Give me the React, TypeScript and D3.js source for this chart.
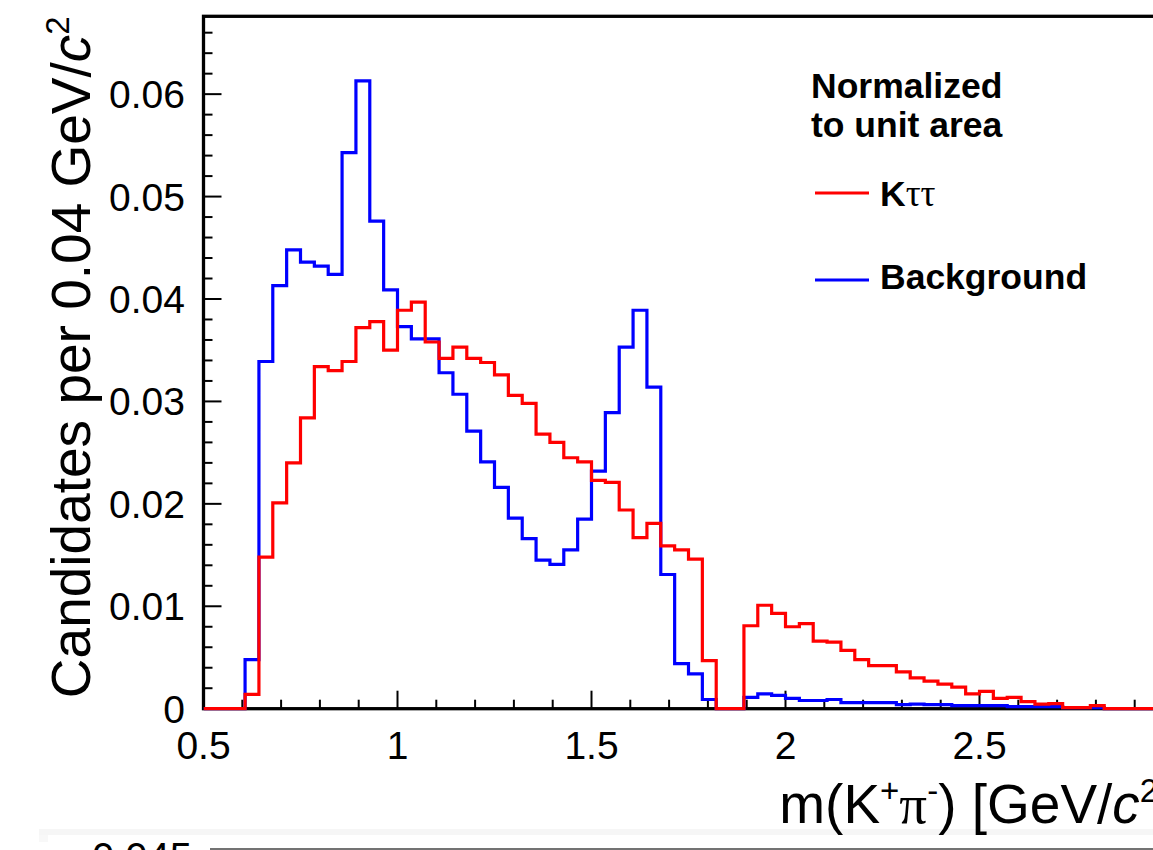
import React from 'react';
import * as d3 from 'd3';

// Histogram binning: 70 bins between 0.5 and 3.0 (x-axis units)
const binRange = [0.5, 3.0];
const nBins = 70;

// Kττ (red), normalized to unit area
const kttValues = [
  0, 0, 0, 0.0014, 0.0148, 0.0201, 0.024, 0.0284, 0.0334, 0.033,
  0.0339, 0.0372, 0.0378, 0.035, 0.0389, 0.0397, 0.0358, 0.0342, 0.0353, 0.0342,
  0.0338, 0.0326, 0.0306, 0.0298, 0.0268, 0.026, 0.0245, 0.0241, 0.0223, 0.0221,
  0.0194, 0.0167, 0.0181, 0.0159, 0.0155, 0.0146, 0.0047, 0, 0, 0.0081,
  0.0101, 0.0093, 0.008, 0.0083, 0.0066, 0.0065, 0.0057, 0.0048, 0.0042, 0.0042,
  0.0036, 0.003, 0.0027, 0.0024, 0.0021, 0.00145, 0.0017, 0.001, 0.0011, 0.0007,
  0.00044, 0.0005, 0.0001, 0.0001, 0.0003, 0, 0, 0, 0, 0,
];

// Background (blue), normalized to unit area
const bkgValues = [
  0, 0, 0, 0.0048, 0.0339, 0.0413, 0.0448, 0.0436, 0.0432, 0.0424,
  0.0543, 0.0613, 0.0476, 0.0409, 0.0373, 0.0361, 0.0361, 0.0328, 0.0307, 0.0271,
  0.0241, 0.0216, 0.0186, 0.0166, 0.0145, 0.0141, 0.0155, 0.0185, 0.0232, 0.0289,
  0.0353, 0.0389, 0.0314, 0.0131, 0.0044, 0.0034, 0.0009, 0, 0, 0.0011,
  0.00145, 0.0013, 0.001, 0.0008, 0.0008, 0.0009, 0.0006, 0.0006, 0.0006, 0.0006,
  0.0004, 0.00045, 0.0004, 0.0004, 0.0003, 0.0003, 0.0003, 0.0003, 0.0002, 0.0002,
  0.0002, 0.0002, 0.0001, 0.0001, 0.0001, 0, 0, 0, 0, 0,
];

const xMajorTicks = [0.5, 1, 1.5, 2, 2.5];
const xTickLabels = ['0.5', '1', '1.5', '2', '2.5'];
const yMajorTicks = [0, 0.01, 0.02, 0.03, 0.04, 0.05, 0.06];
const yTickLabels = ['0', '0.01', '0.02', '0.03', '0.04', '0.05', '0.06'];
const yMax = 0.0676;

const legendTitle = ['Normalized', 'to unit area'];
const seriesNames = ['Kττ', 'Background'];

const SANS = '"Liberation Sans", Arial, Helvetica, sans-serif';
const SERIF = '"Liberation Serif", "Times New Roman", serif';

export default function App() {
  const W = 1153;
  const H = 850;
  const left = 203.5;
  const right = 1173.5;
  const top = 16.3;
  const bottom = 708.7;

  const x = d3.scaleLinear().domain(binRange).range([left, right]);
  const y = d3.scaleLinear().domain([0, yMax]).range([bottom, top]);
  const bw = (binRange[1] - binRange[0]) / nBins;

  const stepPath = (vals: number[]) => {
    const pts: [number, number][] = vals.map((v, i) => [binRange[0] + i * bw, v]);
    pts.push([binRange[0] + vals.length * bw, vals[vals.length - 1]]);
    return (
      d3
        .line<[number, number]>()
        .x((d) => x(d[0]))
        .y((d) => y(d[1]))
        .curve(d3.curveStepAfter)(pts) || ''
    );
  };

  const xMinor = d3
    .range(0, 26)
    .map((i) => 0.5 + i * 0.1)
    .filter((v) => Math.abs(v * 2 - Math.round(v * 2)) > 1e-6);
  const yMinor = d3
    .range(0, 40)
    .map((i) => i * 0.002)
    .filter((v) => v <= yMax && Math.abs(v * 100 - Math.round(v * 100)) > 1e-6);

  const fontTick = 39;
  const titleFont = 55;
  const legFont = 35.5;

  return (
    <svg
      width={W}
      height={H}
      viewBox={`0 0 ${W} ${H}`}
      style={{ position: 'absolute', left: 0, top: 0, background: '#fff' }}
    >
      <rect x={0} y={0} width={W} height={H} fill="#fff" />

      {/* bottom strip of the next panel */}
      <rect x={39} y={829} width={W - 39} height={6} fill="#f6f6f6" />
      <rect x={39} y={835} width={9} height={7} fill="#f8f8f8" />
      <line x1={210} x2={W} y1={849} y2={849} stroke="#444" strokeWidth={1.5} />
      <text x={192} y={871} textAnchor="end" fontFamily={SANS} fontSize={40} fill="#000">
        0.045
      </text>

      {/* ticks */}
      {[...xMajorTicks, binRange[1]].map((t) => (
        <line key={'xM' + t} x1={x(t)} x2={x(t)} y1={bottom} y2={bottom - 18} stroke="#000" strokeWidth={2} />
      ))}
      {xMinor.map((t) => (
        <line key={'xm' + t} x1={x(t)} x2={x(t)} y1={bottom} y2={bottom - 9} stroke="#000" strokeWidth={2} />
      ))}
      {yMajorTicks.map((t) => (
        <line key={'yM' + t} x1={left} x2={left + 18} y1={y(t)} y2={y(t)} stroke="#000" strokeWidth={2} />
      ))}
      {yMinor.map((t) => (
        <line key={'ym' + t} x1={left} x2={left + 9} y1={y(t)} y2={y(t)} stroke="#000" strokeWidth={2} />
      ))}

      {/* frame */}
      <rect
        x={left}
        y={top}
        width={right - left}
        height={bottom - top}
        fill="none"
        stroke="#000"
        strokeWidth={3.3}
      />

      {/* tick labels */}
      {xMajorTicks.map((t, i) => (
        <text
          key={'xl' + t}
          x={x(t)}
          y={759}
          textAnchor="middle"
          fontFamily={SANS}
          fontSize={fontTick}
          fill="#000"
        >
          {xTickLabels[i]}
        </text>
      ))}
      {yMajorTicks.map((t, i) => (
        <text
          key={'yl' + t}
          x={185}
          y={y(t) + 14}
          textAnchor="end"
          fontFamily={SANS}
          fontSize={fontTick}
          fill="#000"
        >
          {yTickLabels[i]}
        </text>
      ))}

      {/* axis titles */}
      <text
        x={right}
        y={823}
        textAnchor="end"
        fontFamily={SANS}
        fontSize={titleFont}
        fill="#000"
      >
        m(K
        <tspan fontSize={titleFont * 0.6} dy={-titleFont * 0.38}>+</tspan>
        <tspan fontFamily={SERIF} dy={titleFont * 0.38}>π</tspan>
        <tspan fontSize={titleFont * 0.6} dy={-titleFont * 0.38}>-</tspan>
        <tspan dy={titleFont * 0.38}>) [GeV/</tspan>
        <tspan fontStyle="italic">c</tspan>
        <tspan fontSize={titleFont * 0.6} dy={-titleFont * 0.38}>2</tspan>
        <tspan dy={titleFont * 0.38}>]</tspan>
      </text>

      <text
        transform={`translate(90, ${top}) rotate(-90)`}
        textAnchor="end"
        fontFamily={SANS}
        fontSize={titleFont}
        fill="#000"
      >
        Candidates per 0.04 GeV/
        <tspan fontStyle="italic">c</tspan>
        <tspan fontSize={titleFont * 0.6} dy={-titleFont * 0.38}>2</tspan>
      </text>

      {/* histograms */}
      <defs>
        <clipPath id="plotclip">
          <rect x={left} y={top} width={right - left} height={bottom - top + 2} />
        </clipPath>
      </defs>
      <g clipPath="url(#plotclip)">
        <path d={stepPath(bkgValues)} fill="none" stroke="#0000ff" strokeWidth={3.2} />
        <path d={stepPath(kttValues)} fill="none" stroke="#ff0000" strokeWidth={3.2} />
      </g>

      {/* legend */}
      <text x={811} y={97.7} fontFamily={SANS} fontWeight="bold" fontSize={legFont} fill="#000">
        {legendTitle[0]}
      </text>
      <text x={811} y={137.3} fontFamily={SANS} fontWeight="bold" fontSize={legFont} fill="#000">
        {legendTitle[1]}
      </text>
      <line x1={815} x2={869} y1={193} y2={193} stroke="#ff0000" strokeWidth={3.2} />
      <text x={880} y={206} fontFamily={SANS} fontWeight="bold" fontSize={legFont} fill="#000">
        {seriesNames[0].slice(0, 1)}
        <tspan fontFamily={SERIF} fontWeight="normal" fontSize={legFont * 1.05}>
          {seriesNames[0].slice(1)}
        </tspan>
      </text>
      <line x1={815} x2={869} y1={280} y2={280} stroke="#0000ff" strokeWidth={3.2} />
      <text x={880} y={289} fontFamily={SANS} fontWeight="bold" fontSize={legFont} fill="#000">
        {seriesNames[1]}
      </text>
    </svg>
  );
}
